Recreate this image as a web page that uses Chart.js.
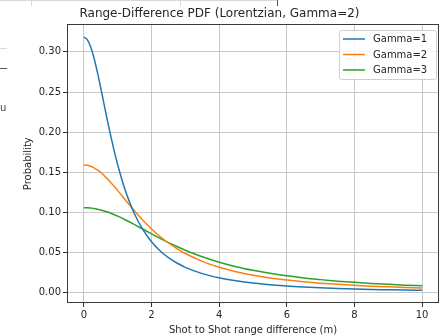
<!DOCTYPE html>
<html lang="en">
<head>
<meta charset="UTF-8" />
<title>Range-Difference PDF</title>
<script src="https://cdn.jsdelivr.net/npm/chart.js"></script>
<style>
  html, body { margin: 0; padding: 0; background: #fff; }
  #wrap { width: 444px; height: 336px; }
</style>
</head>
<body>
<div id="wrap"><canvas id="pdfChart" width="444" height="336"></canvas></div>
<script>
  // values
  const xValues = [0, 0.1, 0.2, 0.3, 0.4, 0.5, 0.6, 0.7, 0.8, 0.9, 1,
                   1.25, 1.5, 1.75, 2, 2.25, 2.5, 2.75, 3,
                   3.5, 4, 4.5, 5, 5.5, 6, 6.5, 7, 7.5, 8, 8.5, 9, 9.5, 10];
  const gamma1 = [0.3183, 0.3152, 0.3061, 0.2920, 0.2744, 0.2546, 0.2341, 0.2136, 0.1941, 0.1759, 0.1592,
                  0.1242, 0.0979, 0.0784, 0.0637, 0.0525, 0.0439, 0.0372, 0.0318,
                  0.0240, 0.0187, 0.0150, 0.0122, 0.0102, 0.0086, 0.0074, 0.0064, 0.0056, 0.0049,
                  0.0043, 0.0039, 0.0035, 0.0032];
  const gamma2 = [0.1592, 0.1588, 0.1576, 0.1557, 0.1530, 0.1498, 0.1460, 0.1418, 0.1372, 0.1324, 0.1273,
                  0.1144, 0.1019, 0.0901, 0.0796, 0.0702, 0.0621, 0.0551, 0.0490,
                  0.0392, 0.0318, 0.0263, 0.0220, 0.0186, 0.0159, 0.0138, 0.0120, 0.0106, 0.0094,
                  0.0083, 0.0075, 0.0068, 0.0061];
  const gamma3 = [0.1061, 0.1060, 0.1056, 0.1051, 0.1042, 0.1032, 0.1020, 0.1006, 0.0991, 0.0973, 0.0955,
                  0.0904, 0.0849, 0.0792, 0.0735, 0.0679, 0.0626, 0.0577, 0.0531,
                  0.0449, 0.0382, 0.0326, 0.0281, 0.0243, 0.0212, 0.0186, 0.0165, 0.0146, 0.0131,
                  0.0118, 0.0106, 0.0096, 0.0088];
  const seriesNames = ['Gamma=1', 'Gamma=2', 'Gamma=3'];
  const xTicks = [0, 2, 4, 6, 8, 10];
  const yTicks = [0, 0.05, 0.10, 0.15, 0.20, 0.25, 0.30];

  const colors = ['#1f77b4', '#ff7f0e', '#2ca02c'];
  const FONT = 'DejaVu Sans';
  const TEXT = '#262626';
  const GRID = '#c8c8c8';

  function toPoints(ys) {
    return ys.map((y, i) => ({ x: xValues[i], y: y }));
  }

  const frameAndLegend = {
    id: 'frameAndLegend',
    afterDatasetsDraw(chart) {
      const ctx = chart.ctx;
      const a = chart.chartArea;
      ctx.save();
      // axes frame
      ctx.strokeStyle = '#3a3a3a';
      ctx.lineWidth = 1;
      ctx.strokeRect(Math.round(a.left) + 0.5, Math.round(a.top) + 0.5,
                     Math.round(a.right - a.left) - 1, Math.round(a.bottom - a.top) - 1);

      // legend, upper right
      const w = 97, h = 49;
      const bx = Math.round(a.right) - 3 - w, by = Math.round(a.top) + 6;
      ctx.fillStyle = 'rgba(255,255,255,0.85)';
      ctx.strokeStyle = '#d0d0d0';
      ctx.beginPath();
      ctx.roundRect(bx + 0.5, by + 0.5, w, h, 2);
      ctx.fill();
      ctx.stroke();
      ctx.font = '10px "' + FONT + '"';
      ctx.textBaseline = 'middle';
      chart.data.datasets.forEach((ds, i) => {
        const y = by + 9 + i * 15.5;
        ctx.strokeStyle = ds.borderColor;
        ctx.lineWidth = 1.5;
        ctx.beginPath();
        ctx.moveTo(bx + 4, y);
        ctx.lineTo(bx + 26, y);
        ctx.stroke();
        ctx.fillStyle = TEXT;
        ctx.fillText(ds.label, bx + 34, y + 0.5);
      });
      ctx.restore();
    },
    afterDraw(chart) {
      // bits of the surrounding window visible in the screenshot
      const ctx = chart.ctx;
      ctx.save();
      ctx.strokeStyle = '#d8d8d8';
      ctx.lineWidth = 1;
      ctx.beginPath();
      ctx.moveTo(0, 0.5); ctx.lineTo(277, 0.5);
      ctx.moveTo(31.5, 0); ctx.lineTo(31.5, 6);
      ctx.moveTo(180.5, 0); ctx.lineTo(180.5, 6);
      ctx.moveTo(0, 48.5); ctx.lineTo(7, 48.5);
      ctx.stroke();
      ctx.strokeStyle = '#555';
      ctx.beginPath();
      ctx.moveTo(277.5, 0); ctx.lineTo(277.5, 6);
      ctx.moveTo(0, 68.5); ctx.lineTo(7, 68.5);
      ctx.stroke();
      ctx.fillStyle = '#444';
      ctx.font = '10px "' + FONT + '"';
      ctx.textBaseline = 'middle';
      ctx.fillText('u', 0, 108);
      ctx.restore();
    }
  };

  new Chart(document.getElementById('pdfChart'), {
    type: 'line',
    data: {
      datasets: [gamma1, gamma2, gamma3].map((ys, i) => ({
        label: seriesNames[i],
        data: toPoints(ys),
        borderColor: colors[i],
        backgroundColor: colors[i],
        borderWidth: 1.5,
        pointRadius: 0,
        cubicInterpolationMode: 'monotone',
        fill: false
      }))
    },
    options: {
      responsive: false,
      animation: false,
      devicePixelRatio: 1,
      layout: { padding: { left: 0, right: 5, top: 0, bottom: 0 } },
      plugins: {
        legend: { display: false },
        tooltip: { enabled: false },
        title: {
          display: true,
          text: 'Range-Difference PDF (Lorentzian, Gamma=2)',
          color: TEXT,
          font: { family: FONT, size: 12, weight: 'normal' },
          padding: { top: 7, bottom: 3 }
        }
      },
      scales: {
        x: {
          type: 'linear',
          min: -0.5,
          max: 10.5,
          afterBuildTicks: s => { s.ticks = xTicks.map(v => ({ value: v })); },
          afterFit: s => { s.height = 33; },
          ticks: {
            color: TEXT,
            font: { family: FONT, size: 10 },
            padding: 2,
            maxRotation: 0,
            callback: v => String(v)
          },
          grid: { color: GRID, lineWidth: 1, tickLength: 4, tickColor: '#333' },
          border: { display: false },
          title: {
            display: true,
            text: 'Shot to Shot range difference (m)',
            color: TEXT,
            font: { family: FONT, size: 10 },
            padding: { top: 0, bottom: 0 }
          }
        },
        y: {
          type: 'linear',
          min: -0.0126,
          max: 0.3342,
          afterBuildTicks: s => { s.ticks = yTicks.map(v => ({ value: v })); },
          afterFit: s => { s.width = 67; },
          ticks: {
            color: TEXT,
            font: { family: FONT, size: 10 },
            padding: 2,
            callback: v => v.toFixed(2)
          },
          grid: { color: GRID, lineWidth: 1, tickLength: 4, tickColor: '#333' },
          border: { display: false },
          title: {
            display: true,
            text: 'Probability',
            color: TEXT,
            font: { family: FONT, size: 10 },
            padding: { top: 22, bottom: 0 }
          }
        }
      }
    },
    plugins: [frameAndLegend]
  });
</script>
</body>
</html>
